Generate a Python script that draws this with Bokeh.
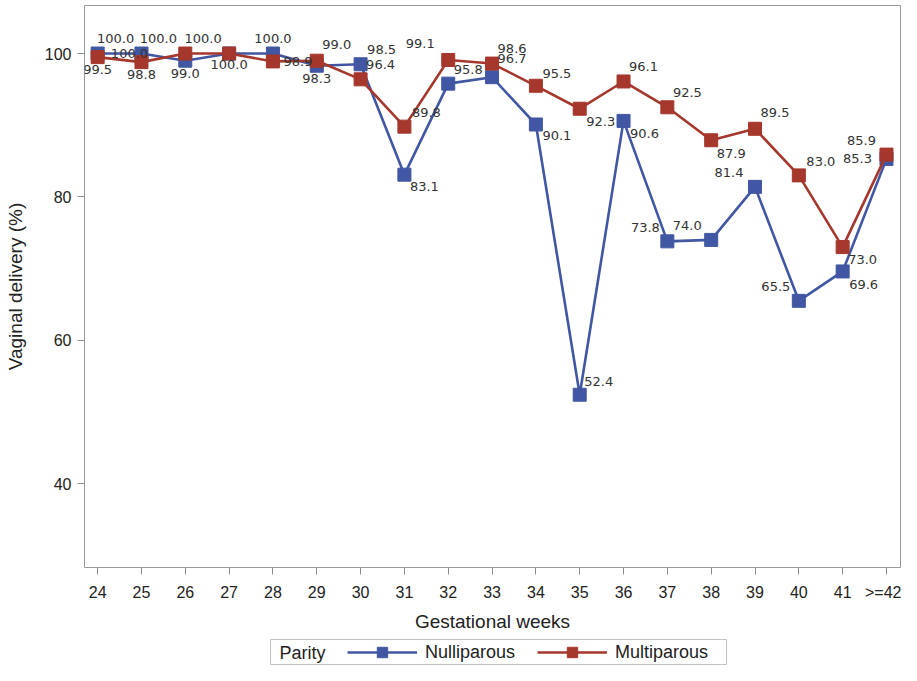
from bokeh.plotting import figure
from bokeh.layouts import column, row
from bokeh.models import (ColumnDataSource, Range1d, FixedTicker, Legend, LegendItem,
                          Label, Spacer)
from bokeh.core.properties import value
from bokeh.embed import file_html
from bokeh.resources import INLINE

# ---- data ----
weeks = ["24", "25", "26", "27", "28", "29", "30", "31", "32", "33", "34",
         "35", "36", "37", "38", "39", "40", "41", ">=42"]
nulliparous = [100.0, 100.0, 99.0, 100.0, 100.0, 98.3, 98.5, 83.1, 95.8, 96.7,
               90.1, 52.4, 90.6, 73.8, 74.0, 81.4, 65.5, 69.6, 85.3]
multiparous = [99.5, 98.8, 100.0, 100.0, 98.9, 99.0, 96.4, 89.8, 99.1, 98.6,
               95.5, 92.3, 96.1, 92.5, 87.9, 89.5, 83.0, 73.0, 85.9]
y_ticks = [40, 60, 80, 100]
series_names = ["Nulliparous", "Multiparous"]
legend_title = "Parity"

# ---- label placement (screen px offsets, style only) ----
null_dx = [18, -12, 0, -26, 0, 0, 21, 20, 20, 20, 21, 19, 21, -22, -24, -26, -23, 21, -29]
null_dy = [-15, 0, 13, -15, -15, 13, -15, 12, -14, -19, 11, -13, 13, -14, -14, -14, -14, 13, 0]
multi_dx = [0, 0, -27, 0, 25, 20, 20, 22, -28, 20, 21, 21, 20, 20, 20, 20, 22, 20, -25]
multi_dy = [12, 12, -15, 11, 0, -16, -15, -14, -16, -15, -12, 13, -15, -15, 13, -16, -14, 12, -14]

BLUE = "#4157a3"
RED = "#a5372c"
AXIS_FONT = "Liberation Sans"
LABEL_FONT = "DejaVu Sans"
TEXT_COLOR = "#222222"

# ---- layout constants (pixels) ----
FW, FH = 816, 562
BL, BR, BT, BB = 84, 1, 5, 72
X0, X1 = -0.3, 18.32
Y0, Y1 = 28.3, 106.7
LEG_W, LEG_H, LEG_LEFT = 457, 26, 270

xs = list(range(len(weeks)))

src_n = ColumnDataSource(dict(x=xs, y=nulliparous,
                              t=["%.1f" % v for v in nulliparous],
                              dx=null_dx, dy=null_dy))
src_m = ColumnDataSource(dict(x=xs, y=multiparous,
                              t=["%.1f" % v for v in multiparous],
                              dx=multi_dx, dy=multi_dy))

p = figure(frame_width=FW, frame_height=FH, output_backend="svg", toolbar_location=None,
           x_range=Range1d(X0, X1), y_range=Range1d(Y0, Y1),
           min_border_top=BT, min_border_left=BL, min_border_right=BR,
           min_border_bottom=BB)

p.background_fill_color = "white"
p.border_fill_color = "white"
p.outline_line_color = "#9a9a9a"
p.outline_line_width = 1
p.xgrid.visible = False
p.ygrid.visible = False

line_kw = dict(line_width=2.6)
sq_kw = dict(marker="square", size=13)

p.line("x", "y", source=src_n, line_color=BLUE, **line_kw)
p.scatter("x", "y", source=src_n, fill_color=BLUE, line_color=BLUE, **sq_kw)
p.line("x", "y", source=src_m, line_color=RED, **line_kw)
p.scatter("x", "y", source=src_m, fill_color=RED, line_color=RED, **sq_kw)

for s in (src_n, src_m):
    p.text("x", "y", text="t", source=s, x_offset="dx", y_offset="dy",
           text_align="center", text_baseline="middle",
           text_font=value(LABEL_FONT), text_font_size="13px",
           text_color="#333333")

# axes
xa = p.xaxis[0]
xa.ticker = FixedTicker(ticks=xs)
xa.major_label_overrides = {i: w for i, w in zip(xs, weeks)}
ya = p.yaxis[0]
ya.ticker = FixedTicker(ticks=y_ticks)

for ax in (xa, ya):
    ax.axis_line_color = None
    ax.major_tick_line_color = "#8c8c8c"
    ax.major_tick_in = 0
    ax.major_tick_out = 7
    ax.minor_tick_line_color = None
    ax.major_label_text_font = AXIS_FONT
    ax.major_label_text_font_size = "16px"
    ax.major_label_text_color = TEXT_COLOR
    ax.axis_label_text_font = AXIS_FONT
    ax.axis_label_text_font_size = "19px"
    ax.axis_label_text_font_style = "normal"
    ax.axis_label_text_color = TEXT_COLOR

xa.axis_label = "Gestational weeks"
xa.major_label_standoff = 9
xa.axis_label_standoff = 7
ya.axis_label = "Vaginal delivery (%)"
ya.major_label_standoff = 6
ya.axis_label_standoff = 16

# ---- legend strip (separate small figure below the chart) ----
lf = figure(width=LEG_W, height=LEG_H, output_backend="svg", toolbar_location=None,
            x_range=Range1d(0, LEG_W), y_range=Range1d(0, LEG_H),
            x_axis_type=None, y_axis_type=None,
            min_border=0, min_border_left=0, min_border_right=0,
            min_border_top=0, min_border_bottom=0)
lf.xgrid.visible = False
lf.ygrid.visible = False
lf.outline_line_color = "#c4c4c4"
lf.outline_line_width = 1
lf.background_fill_color = "white"
lf.border_fill_color = "white"

# legend-only proxy glyphs, placed outside the visible range of the strip
proxy_x = [-100, -90]
proxy_y = [-100, -90]
items = []
for name, col in zip(series_names, (BLUE, RED)):
    r_line = lf.line(x=proxy_x, y=proxy_y, line_color=col, **line_kw)
    r_sq = lf.scatter(x=proxy_x, y=proxy_y, fill_color=col, line_color=col, **sq_kw)
    items.append(LegendItem(label=name, renderers=[r_line, r_sq]))

legend = Legend(items=items, orientation="horizontal", location=(77, 0))
legend.label_text_font = AXIS_FONT
legend.label_text_font_size = "18px"
legend.label_text_color = TEXT_COLOR
legend.glyph_width = 70
legend.glyph_height = 26
legend.label_height = 26
legend.label_standoff = 8
legend.spacing = 22
legend.padding = 0
legend.margin = 0
legend.border_line_color = None
legend.background_fill_alpha = 0
lf.add_layout(legend)

lf.add_layout(Label(x=32, y=LEG_H / 2, text=legend_title,
                    text_align="center", text_baseline="middle",
                    text_font=AXIS_FONT, text_font_size="18px",
                    text_color=TEXT_COLOR))

layout = column(p, row(Spacer(width=LEG_LEFT, height=LEG_H), lf))

open("out.html", "w").write(file_html(layout, INLINE))
